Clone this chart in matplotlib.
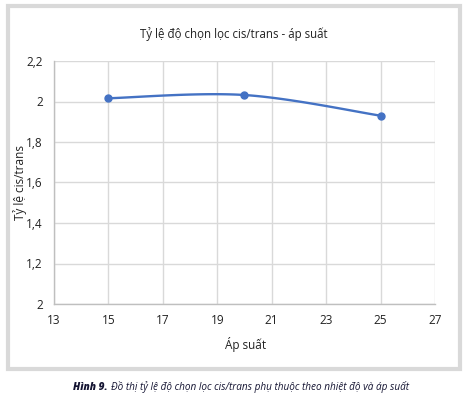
import numpy as np
import matplotlib
matplotlib.use("Agg")
import matplotlib.pyplot as plt
from matplotlib.patches import Rectangle

# ── Data ──────────────────────────────────────────────────────────────────────
pressure = [15, 20, 25]
ratio = [2.016, 2.032, 1.930]
y_ticks = [1.0, 1.2, 1.4, 1.6, 1.8, 2.0, 2.2]
y_tick_labels = ["2", "1,2", "1,4", "1,6", "1,8", "2", "2,2"]
x_ticks = [13, 15, 17, 19, 21, 23, 25, 27]

TITLE = "Tỷ lệ độ chọn lọc cis/trans - áp suất"
XLABEL = "Áp suất"
YLABEL = "Tỷ lệ cis/trans"
CAPTION_BOLD = "Hình 9."
CAPTION = "Đồ thị tỷ lệ độ chọn lọc cis/trans phụ thuộc theo nhiệt độ và áp suất"

BLUE = "#4472c4"
W, H = 466, 398


def smooth(xs, ys, n=60):
    """Excel-style smoothed line (Catmull-Rom as cubic Bezier)."""
    p = np.column_stack([xs, ys]).astype(float)
    p = np.vstack([p[0], p, p[-1]])
    t = np.linspace(0, 1, n)[:, None]
    out = []
    for i in range(1, len(p) - 2):
        p0, p1, p2, p3 = p[i - 1], p[i], p[i + 1], p[i + 2]
        c1 = p1 + (p2 - p0) / 6
        c2 = p2 - (p3 - p1) / 6
        seg = (1 - t) ** 3 * p1 + 3 * (1 - t) ** 2 * t * c1 + 3 * (1 - t) * t ** 2 * c2 + t ** 3 * p2
        out.append(seg)
    out = np.vstack(out)
    return out[:, 0], out[:, 1]


plt.rcParams["font.family"] = ["Open Sans", "DejaVu Sans"]

fig = plt.figure(figsize=(W / 100, H / 100), dpi=100)

# grey frame around the chart area
fig.patches.append(Rectangle((8 / W, 1 - 369 / H), 452 / W, 363 / H,
                             transform=fig.transFigure, facecolor="white",
                             edgecolor="#d9d9d9", linewidth=3, zorder=-10))

ax = fig.add_axes([54 / W, 1 - 304 / H, 381 / W, 243 / H])
ax.set_zorder(5)
ax.patch.set_alpha(0)
ax.set_xlim(13, 27)
ax.set_ylim(1.0, 2.2)
ax.set_xticks(x_ticks)
ax.set_yticks(y_ticks)
ax.set_yticklabels(y_tick_labels)
ax.grid(True, color="#d9d9d9", linewidth=1)
ax.set_axisbelow(True)
for side in ["top", "right"]:
    ax.spines[side].set_visible(False)
for side in ["left", "bottom"]:
    ax.spines[side].set_color("#bfbfbf")
    ax.spines[side].set_linewidth(1)
ax.tick_params(length=0, labelsize=8.5, colors="#222222", pad=8)
ax.tick_params(axis="x", pad=7)

sx, sy = smooth(pressure, ratio)
ax.plot(sx, sy, color=BLUE, linewidth=1.7, clip_on=False)
ax.plot(pressure, ratio, "o", color=BLUE, markersize=5, clip_on=False)

fig.text(234 / W, 1 - 34 / H, TITLE, ha="center", va="center", fontsize=8.3, color="#222222")
fig.text(246 / W, 1 - 345 / H, XLABEL, ha="center", va="center", fontsize=8.5, color="#222222")
fig.text(20 / W, 1 - 182 / H, YLABEL, ha="center", va="center", rotation=90, fontsize=8.5, color="#222222")

# caption: bold part then regular italic part right after it
cap = fig.text(73 / W, 1 - 387 / H, CAPTION_BOLD, ha="left", va="center", fontsize=7.3,
               fontweight="heavy", fontstyle="italic", color="#141432")
r = fig.canvas.get_renderer()
bb = cap.get_window_extent(r)
fig.text((bb.x1 + 3) / W, 1 - 387 / H, CAPTION, ha="left", va="center", fontsize=7.2,
         fontstyle="italic", color="#141432")

fig.savefig("out.png", dpi=100)
